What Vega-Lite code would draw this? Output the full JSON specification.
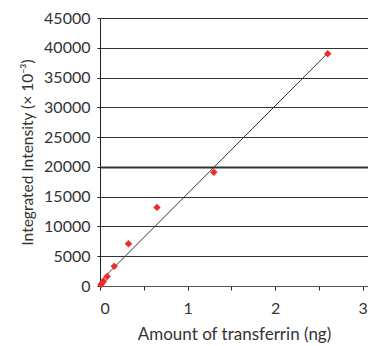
{
  "$schema": "https://vega.github.io/schema/vega-lite/v6.json",
  "width": 268,
  "height": 268,
  "autosize": {"type": "none"},
  "padding": {"left": 100, "top": 18, "right": 0, "bottom": 60},
  "background": "white",
  "config": {
    "view": {"stroke": null},
    "font": "Lato",
    "axis": {"labelFont": "Lato", "titleFont": "Lato", "labelColor": "#333", "titleColor": "#333", "domainColor": "#222", "tickColor": "#222", "labelFontSize": 16, "titleFontSize": 15.5, "titleFontWeight": "normal"}
  },
  "datasets": {
    "pts": [
      {"amount": 2.6, "intensity": 39000},
      {"amount": 1.3, "intensity": 19100},
      {"amount": 0.65, "intensity": 13200},
      {"amount": 0.325, "intensity": 7100},
      {"amount": 0.1625, "intensity": 3300},
      {"amount": 0.08125, "intensity": 1600},
      {"amount": 0.0406, "intensity": 800},
      {"amount": 0.0203, "intensity": 400},
      {"amount": 0.0102, "intensity": 200}
    ],
    "trend": [
      {"amount": 0.0102, "intensity": 900},
      {"amount": 2.6, "intensity": 39100}
    ]
  },
  "encoding": {
    "x": {"field": "amount", "type": "quantitative", "scale": {"domain": [0, 3.06], "nice": false, "zero": true},
      "axis": {"title": "Amount of transferrin (ng)", "titleFontSize": 17, "values": [0, 0.5, 1, 1.5, 2, 2.5, 3], "labelExpr": "datum.value % 1 === 0 ? format(datum.value, 'd') : ''", "grid": false, "tickSize": 4, "labelPadding": 10, "titlePadding": 10, "domainColor": "#555"}},
    "y": {"field": "intensity", "type": "quantitative", "scale": {"domain": [0, 45000], "nice": false},
      "axis": {"title": "Integrated Intensity (× 10⁻³)", "values": [0, 5000, 10000, 15000, 20000, 25000, 30000, 35000, 40000, 45000], "format": "d", "grid": true, "gridColor": "#333", "gridWidth": {"condition": {"test": "datum.value === 20000", "value": 2}, "value": 1}, "tickSize": 3, "labelPadding": 7, "titlePadding": 8}}
  },
  "layer": [
    {
      "data": {"name": "trend"},
      "mark": {"type": "line", "color": "#333", "strokeWidth": 1}
    },
    {
      "data": {"name": "pts"},
      "mark": {"type": "point", "shape": "diamond", "filled": true, "color": "#ee2a2a", "size": 55, "opacity": 1}
    }
  ]
}
